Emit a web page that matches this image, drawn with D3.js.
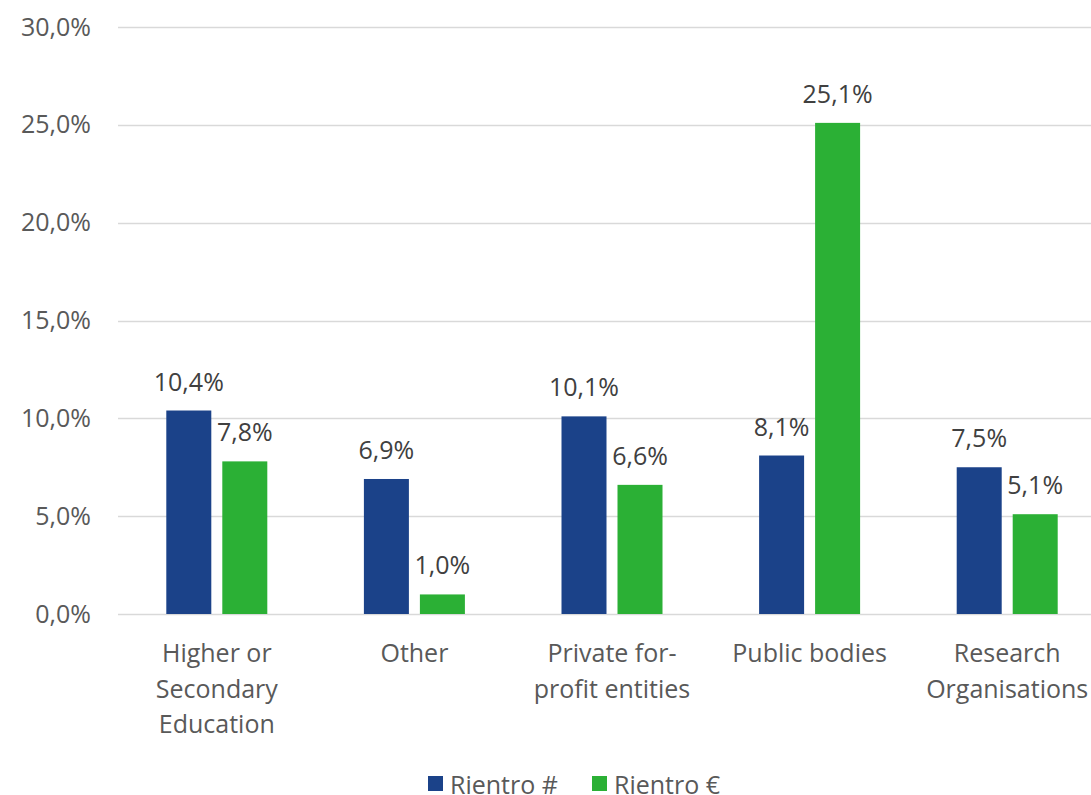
<!DOCTYPE html>
<html>
<head>
<meta charset="utf-8">
<script src="https://cdn.jsdelivr.net/npm/d3@7"></script>
<style>
  body { margin: 0; background: #fff; }
  svg text { font-family: "Open Sans", "Noto Sans", sans-serif; }
</style>
</head>
<body>
<svg id="chart" width="1091" height="795"></svg>
<script>
// chart values
var categories = [
    ['Higher or', 'Secondary', 'Education'],
    ['Other'],
    ['Private for-', 'profit entities'],
    ['Public bodies'],
    ['Research', 'Organisations']
];
var seriesNames = ['Rientro #', 'Rientro €'];
var rientroNum = [10.4, 6.9, 10.1, 8.1, 7.5];
var rientroEur = [7.8, 1.0, 6.6, 25.1, 5.1];
var yTicks = [0, 5, 10, 15, 20, 25, 30];

(function() {
    var colors = ['#1b4289', '#2bb035'];

    var svg = d3.select('#chart'),
        left = 118, right = 1106,
        plotTop = 27, plotBottom = 614;

    var x = d3.scaleBand()
        .domain(d3.range(categories.length))
        .range([left, right]);

    var y = d3.scaleLinear()
        .domain([0, 30])
        .range([plotBottom, plotTop]);

    var fmt = function(v) { return v.toFixed(1).replace('.', ',') + '%'; };

    // gridlines
    svg.append('g')
        .selectAll('line')
        .data(yTicks)
        .enter()
        .append('line')
        .attr('x1', left).attr('x2', 1091)
        .attr('y1', function(d) { return Math.round(y(d)) + 0.5; })
        .attr('y2', function(d) { return Math.round(y(d)) + 0.5; })
        .attr('stroke', '#d9d9d9')
        .attr('stroke-width', 1.5);

    // y axis labels
    var yAxis = d3.axisLeft(y).tickValues(yTicks).tickFormat(fmt).tickSize(0).tickPadding(0);
    var ya = svg.append('g').attr('transform', 'translate(91,0)').call(yAxis);
    ya.select('.domain').remove();
    ya.selectAll('text')
        .attr('fill', '#595959')
        .attr('font-size', 25)
        .attr('font-family', '"Open Sans", "Noto Sans", sans-serif');

    // bars
    var barW = 45, gap = 11;
    var series = [rientroNum, rientroEur];
    series.forEach(function(vals, s) {
        var offset = s === 0 ? -gap / 2 - barW : gap / 2;
        var g = svg.append('g');
        g.selectAll('rect')
            .data(vals)
            .enter()
            .append('rect')
            .attr('x', function(d, i) { return x(i) + x.bandwidth() / 2 + offset; })
            .attr('y', function(d) { return y(d); })
            .attr('width', barW)
            .attr('height', function(d) { return y(0) - y(d); })
            .attr('fill', colors[s]);
        g.selectAll('text')
            .data(vals)
            .enter()
            .append('text')
            .attr('x', function(d, i) { return x(i) + x.bandwidth() / 2 + offset + barW / 2; })
            .attr('y', function(d) { return y(d) - 20; })
            .attr('text-anchor', 'middle')
            .attr('font-size', 25)
            .attr('fill', '#404040')
            .text(fmt);
    });

    // x labels
    var xl = svg.append('g').selectAll('text')
        .data(categories)
        .enter()
        .append('text')
        .attr('text-anchor', 'middle')
        .attr('font-size', 25)
        .attr('fill', '#595959')
        .attr('transform', function(d, i) { return 'translate(' + (x(i) + x.bandwidth() / 2) + ',662)'; });
    xl.selectAll('tspan')
        .data(function(d) { return d; })
        .enter()
        .append('tspan')
        .attr('x', 0)
        .attr('dy', function(d, i) { return i === 0 ? 0 : 35.5; })
        .text(function(d) { return d; });

    // legend
    var legend = svg.append('g').attr('transform', 'translate(428,776)');
    var lx = [0, 164];
    seriesNames.forEach(function(name, i) {
        legend.append('rect')
            .attr('x', lx[i]).attr('y', 0)
            .attr('width', 15).attr('height', 15)
            .attr('fill', colors[i]);
        legend.append('text')
            .attr('x', lx[i] + 22).attr('y', 8)
            .attr('dominant-baseline', 'central')
            .attr('font-size', 25)
            .attr('fill', '#595959')
            .text(name);
    });
})();
</script>
</body>
</html>
